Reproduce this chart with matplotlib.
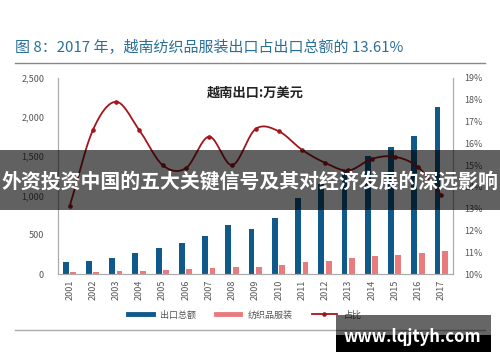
import numpy as np
import matplotlib
matplotlib.use("Agg")
import matplotlib.pyplot as plt
from matplotlib.lines import Line2D
from matplotlib.patches import Rectangle

plt.rcParams['font.family'] = ['Noto Sans CJK SC', 'DejaVu Sans']

# data
years = ['2001', '2002', '2003', '2004', '2005', '2006', '2007', '2008', '2009',
         '2010', '2011', '2012', '2013', '2014', '2015', '2016', '2017']
total_exports = [150, 170, 200, 262, 328, 392, 482, 626, 575,
                 720, 968, 1145, 1321, 1500, 1620, 1765, 2130]
textile_exports = [28, 28, 40, 40, 53, 66, 83, 95, 95,
                   117, 155, 172, 201, 235, 248, 265, 290]
share_pct = [13.1, 16.6, 17.9, 16.6, 15.0, 14.85, 16.3, 15.0, 16.65,
             16.55, 15.7, 15.1, 14.75, 15.28, 15.38, 14.9, 13.61]

blue = '#0f5a8a'
pink = '#e97b7d'
red = '#a3161c'
grey_txt = '#555555'


def smooth(xs, ys, n=20):
    # Catmull-Rom curve through the points, like a smoothed Excel line
    xs = np.asarray(xs, float)
    ys = np.asarray(ys, float)
    px = np.concatenate([[2 * xs[0] - xs[1]], xs, [2 * xs[-1] - xs[-2]]])
    py = np.concatenate([[2 * ys[0] - ys[1]], ys, [2 * ys[-1] - ys[-2]]])
    outx, outy = [], []
    t = np.linspace(0, 1, n, endpoint=False)
    for i in range(1, len(px) - 2):
        for p, out in ((px, outx), (py, outy)):
            p0, p1, p2, p3 = p[i - 1], p[i], p[i + 1], p[i + 2]
            out.extend(0.5 * (2 * p1 + (-p0 + p2) * t
                              + (2 * p0 - 5 * p1 + 4 * p2 - p3) * t ** 2
                              + (-p0 + 3 * p1 - 3 * p2 + p3) * t ** 3))
    outx.append(xs[-1])
    outy.append(ys[-1])
    return outx, outy


fig = plt.figure(figsize=(5, 3.62), dpi=100)
ax = fig.add_axes([0.116, 0.243, 0.79, 0.542])
ax2 = ax.twinx()

x = np.arange(len(years))
w = 0.25
ax.bar(x - 0.17, total_exports, w, color=blue, zorder=2)
ax.bar(x + 0.15, textile_exports, w, color=pink, zorder=2)

sx, sy = smooth(x, share_pct)
ax2.plot(sx, sy, color=red, lw=1.3, zorder=3)
ax2.plot(x, share_pct, 'o', color=red, ms=2.3, zorder=4)

ax.set_xlim(-0.5, len(years) - 0.5)
ax.set_ylim(0, 2500)
ax.set_yticks(range(0, 2501, 500))
ax.set_yticklabels([f'{v:,}' for v in range(0, 2501, 500)])
ax2.set_ylim(10, 19)
ax2.set_yticks(range(10, 20))
ax2.set_yticklabels([f'{v}%' for v in range(10, 20)])
ax.set_xticks(x)
ax.set_xticklabels(years, rotation=90)

for a in (ax, ax2):
    for s in a.spines.values():
        s.set_color('#aaaaaa')
        s.set_linewidth(0.8)
    a.spines['top'].set_visible(False)
    a.tick_params(labelsize=6.5, colors=grey_txt, length=0, pad=4)
ax.spines['bottom'].set_color('#cccccc')
ax.tick_params(axis='y', pad=10)
ax2.tick_params(axis='y', pad=8)

ax.text(0.5, 0.925, '越南出口:万美元', transform=ax.transAxes, ha='center',
        va='center', fontsize=9.5, fontweight='bold', color='#222222')

handles = [Line2D([], [], color=blue, lw=3.5),
           Line2D([], [], color=pink, lw=3.5),
           Line2D([], [], color=red, lw=1.3, marker='o', ms=2.3)]
fig.legend(handles, ['出口总额', '纺织品服装', '占比'], loc='center',
           bbox_to_anchor=(0.49, 0.13), ncol=3, frameon=False, fontsize=6.5,
           handlelength=2.7, columnspacing=2.2, labelcolor=grey_txt)

fig.text(0.03, 0.87, '图 8：2017 年，越南纺织品服装出口占出口总额的 13.61%',
         fontsize=10.8, color='#2a6f98', va='center')
fig.add_artist(Line2D([0.03, 0.97], [0.826, 0.826], color='#888888', lw=1))
fig.add_artist(Line2D([0.03, 0.97], [0.088, 0.088], color='#aaaaaa', lw=1))

# overlays from the source page
fig.add_artist(Rectangle((0, 0.42), 1, 0.166, transform=fig.transFigure,
                         color='black', alpha=0.62, lw=0, zorder=10))
fig.text(0.5, 0.5, '外资投资中国的五大关键信号及其对经济发展的深远影响',
         ha='center', va='center', fontsize=14.3, fontweight='bold',
         color='white', zorder=11)
fig.add_artist(Rectangle((0.672, 0.075), 0.31, 0.055, transform=fig.transFigure,
                         color='black', alpha=0.6, lw=0, zorder=10))
fig.add_artist(Rectangle((0.672, 0.028), 0.31, 0.047, transform=fig.transFigure,
                         color='black', lw=0, zorder=10))
fig.text(0.825, 0.068, 'www.lqjtyh.com', ha='center', va='center',
         fontsize=12, fontweight='bold', color='white', zorder=11)

fig.savefig('out.png', dpi=100)
